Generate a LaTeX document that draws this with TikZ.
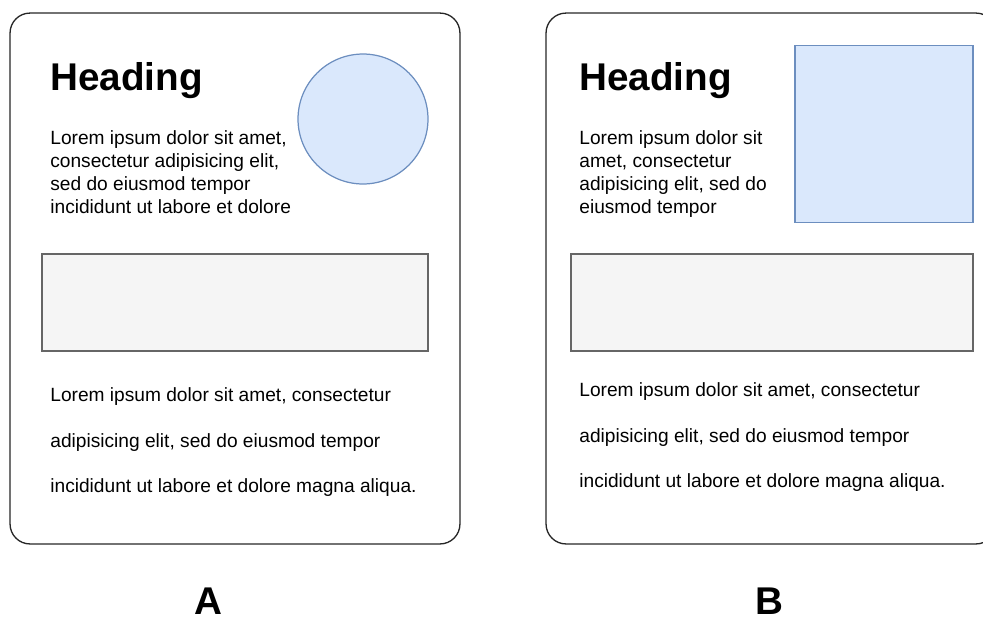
\documentclass[tikz,border=0pt]{standalone}
\usepackage{fontspec}
\setmainfont{Liberation Sans}
\usepackage{xcolor}
\usepackage{tikz}
\usetikzlibrary{positioning}
\definecolor{shapeBlue}{RGB}{218,232,252}
\definecolor{shapeBlueEdge}{RGB}{108,142,191}
\definecolor{panelGray}{RGB}{245,245,245}
\definecolor{panelEdge}{RGB}{102,102,102}

\begin{document}
\begin{tikzpicture}[x=0.02cm,y=-0.02cm,
  card/.style={rectangle,rounded corners=0.4cm,draw=black!85,line width=0.75pt,
               minimum width=9cm,minimum height=10.62cm,inner sep=0pt},
  panel/.style={rectangle,draw=panelEdge,fill=panelGray,line width=0.7pt,
                minimum height=1.94cm,inner sep=0pt},
  accent/.style={draw=shapeBlueEdge,fill=shapeBlue,line width=0.7pt,inner sep=0pt},
  heading/.style={anchor=base west,inner sep=0pt,font=\fontsize{22}{26}\selectfont\bfseries},
  blurb/.style={anchor=north west,inner sep=0pt,align=left,
                font=\fontsize{10.9}{13.05}\selectfont},
  spaced/.style={anchor=north west,inner sep=0pt,align=left,
                 font=\fontsize{10.9}{26.1}\selectfont},
  tag/.style={anchor=base,inner sep=0pt,font=\fontsize{22}{26}\selectfont\bfseries}
]
\useasboundingbox (0,0) rectangle (983,620);
% Layout A
\node[card] (cardA) at (235,278.5) {};
\node[heading] (headA) at (50,90) {Heading};
\node[accent,circle,minimum size=2.6cm] (circA) at (363,119) {};
\node[blurb] (textA) at (50,130) {Lorem ipsum dolor sit amet,\\consectetur adipisicing elit,\\sed do eiusmod tempor\\incididunt ut labore et dolore};
\node[panel,minimum width=7.72cm] (panelA) at (235,302.5) {};
\node[spaced] (bodyA) at (50,387) {Lorem ipsum dolor sit amet, consectetur\\adipisicing elit, sed do eiusmod tempor\\incididunt ut labore et dolore magna aliqua.};
\node[tag] (labA) at (208,614) {A};
% Layout B
\node[card] (cardB) at (771,278.5) {};
\node[heading] (headB) at (579,90) {Heading};
\node[accent,rectangle,minimum width=3.56cm,minimum height=3.54cm] (sqB) at (884,134) {};
\node[blurb] (textB) at (579,130) {Lorem ipsum dolor sit\\amet, consectetur\\adipisicing elit, sed do\\eiusmod tempor};
\node[panel,minimum width=8.04cm] (panelB) at (772,302.5) {};
\node[spaced] (bodyB) at (579,382) {Lorem ipsum dolor sit amet, consectetur\\adipisicing elit, sed do eiusmod tempor\\incididunt ut labore et dolore magna aliqua.};
\node[tag] (labB) at (769,614) {B};
\end{tikzpicture}
\end{document}
